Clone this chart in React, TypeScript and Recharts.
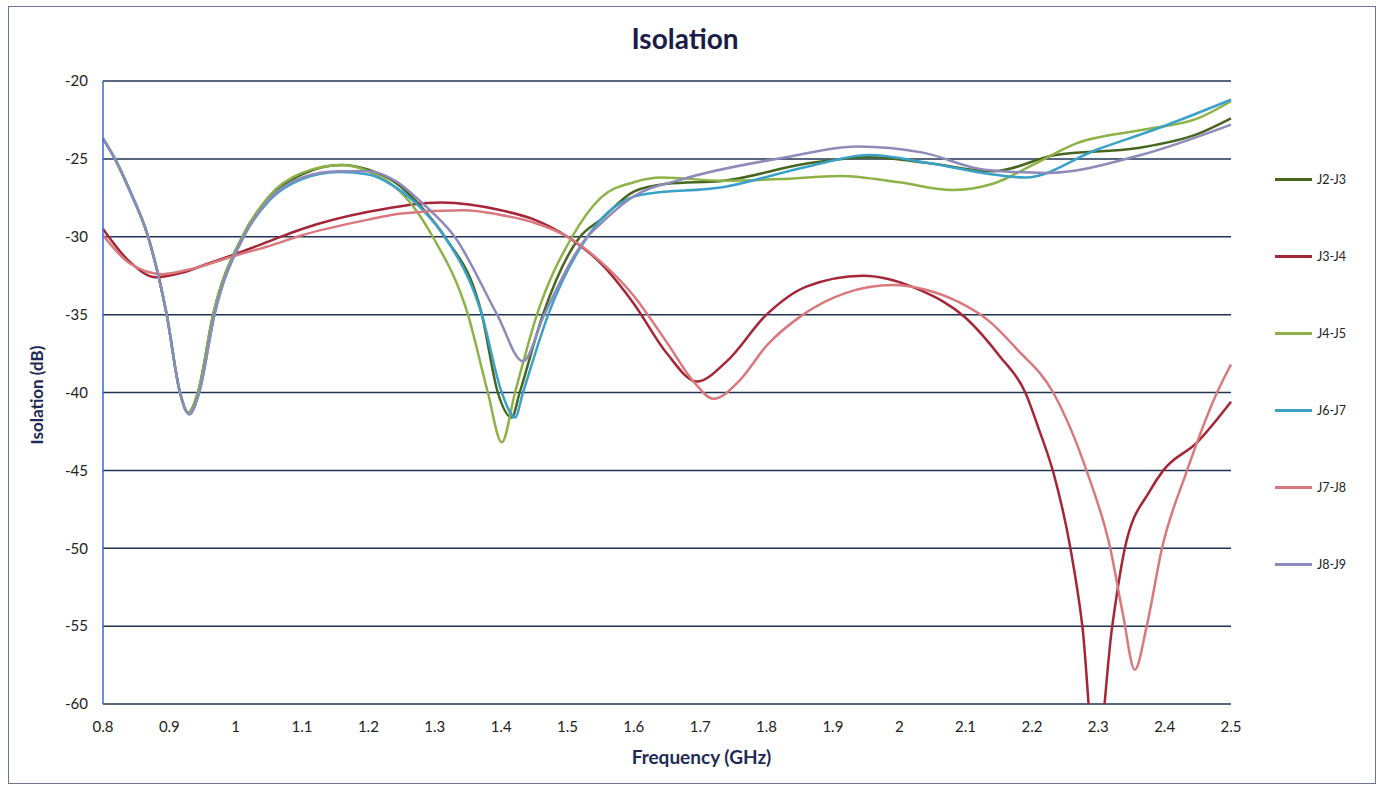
import { LineChart, Line, XAxis, YAxis, CartesianGrid } from "recharts";

const FONT = "Lato, 'Open Sans', sans-serif";

// frequency (GHz) / isolation (dB) pairs
const freqJ23 = [0.8, 0.818, 0.84, 0.868, 0.896, 0.916, 0.928, 0.943, 0.966, 1.01, 1.05, 1.1, 1.16, 1.2, 1.24, 1.28, 1.315, 1.371, 1.395, 1.416, 1.428, 1.463, 1.519, 1.55, 1.6, 1.65, 1.736, 1.861, 1.955, 2.048, 2.141, 2.235, 2.36, 2.45, 2.5];
const isoJ23 = [-23.7, -25, -27, -30, -35, -40, -41.3, -40, -35, -30, -27.5, -26, -25.4, -25.7, -26.5, -28.1, -30, -35, -40, -41.6, -40, -35, -30, -28.9, -27.1, -26.6, -26.4, -25.3, -24.9, -25.3, -25.8, -24.75, -24.3, -23.4, -22.4];

const freqJ34 = [0.8, 0.84, 0.88, 0.92, 0.96, 1.0, 1.05, 1.1, 1.2, 1.31, 1.4, 1.45, 1.5, 1.55, 1.6, 1.65, 1.695, 1.74, 1.8, 1.86, 1.945, 2.03, 2.1, 2.152, 2.19, 2.21, 2.232, 2.258, 2.276, 2.296, 2.321, 2.34, 2.378, 2.398, 2.449, 2.5];
const isoJ34 = [-29.5, -31.6, -32.6, -32.3, -31.7, -31.1, -30.3, -29.5, -28.4, -27.8, -28.3, -28.9, -30, -31.7, -34.3, -37.5, -39.3, -38, -35, -33.2, -32.5, -33.4, -35.2, -37.7, -40, -42.3, -45.1, -50, -55, -64, -55, -50, -46.3, -45, -43.2, -40.6];

const freqJ45 = [0.8, 0.818, 0.84, 0.868, 0.896, 0.916, 0.928, 0.943, 0.966, 1.01, 1.05, 1.1, 1.16, 1.2, 1.24, 1.27, 1.297, 1.35, 1.38, 1.401, 1.421, 1.454, 1.507, 1.55, 1.6, 1.642, 1.736, 1.82, 1.911, 2.0, 2.08, 2.141, 2.205, 2.267, 2.372, 2.45, 2.5];
const isoJ45 = [-23.7, -25, -27, -30, -35, -40, -41.3, -40, -35, -30, -27.4, -25.9, -25.4, -25.8, -26.8, -28.2, -30, -35, -40, -43.2, -40, -35, -30, -27.5, -26.5, -26.2, -26.4, -26.3, -26.1, -26.5, -27, -26.6, -25.3, -24, -23.1, -22.4, -21.3];

const freqJ67 = [0.8, 0.818, 0.84, 0.868, 0.896, 0.916, 0.93, 0.945, 0.968, 1.012, 1.05, 1.1, 1.155, 1.2, 1.24, 1.28, 1.315, 1.371, 1.401, 1.421, 1.433, 1.471, 1.53, 1.611, 1.736, 1.861, 1.955, 2.048, 2.141, 2.19, 2.298, 2.386, 2.5];
const isoJ67 = [-23.7, -25, -27, -30, -35, -40, -41.4, -40, -35, -30, -27.7, -26.3, -25.85, -26, -26.8, -28.2, -30, -35, -40, -41.6, -40, -35, -30, -27.3, -26.8, -25.5, -24.75, -25.3, -26, -26.2, -24.4, -23.1, -21.2];

const freqJ78 = [0.8, 0.84, 0.89, 0.93, 1.0, 1.05, 1.1, 1.2, 1.25, 1.343, 1.4, 1.45, 1.5, 1.55, 1.6, 1.65, 1.69, 1.72, 1.76, 1.8, 1.855, 1.92, 1.99, 2.04, 2.09, 2.135, 2.177, 2.232, 2.283, 2.318, 2.337, 2.355, 2.373, 2.396, 2.433, 2.479, 2.5];
const isoJ78 = [-29.9, -31.7, -32.4, -32.1, -31.2, -30.6, -29.9, -28.9, -28.5, -28.3, -28.6, -29.1, -30, -31.6, -33.8, -36.8, -39.3, -40.4, -39.2, -37, -35, -33.6, -33.1, -33.4, -34.2, -35.4, -37.2, -40, -45.1, -50, -54.2, -57.8, -55, -50, -45.1, -40, -38.2];

const freqJ89 = [0.8, 0.818, 0.84, 0.868, 0.896, 0.916, 0.93, 0.945, 0.968, 1.012, 1.05, 1.1, 1.155, 1.2, 1.24, 1.28, 1.33, 1.394, 1.433, 1.465, 1.53, 1.549, 1.6, 1.674, 1.829, 1.936, 2.036, 2.129, 2.223, 2.36, 2.5];
const isoJ89 = [-23.7, -25, -27, -30, -35, -40, -41.4, -40, -35, -30, -27.6, -26.2, -25.8, -25.8, -26.4, -27.8, -30, -35, -38, -35, -30, -29.2, -27.4, -26.3, -24.9, -24.2, -24.6, -25.7, -25.9, -24.8, -22.8];

const xTicks = [0.8, 0.9, 1, 1.1, 1.2, 1.3, 1.4, 1.5, 1.6, 1.7, 1.8, 1.9, 2, 2.1, 2.2, 2.3, 2.4, 2.5];
const yTicks = [-60, -55, -50, -45, -40, -35, -30, -25, -20];

const toPoints = (f: number[], v: number[]) => f.map((x, i) => ({ f: x, v: v[i] }));

const series = [
  { name: "J2-J3", color: "#46661f", points: toPoints(freqJ23, isoJ23) },
  { name: "J3-J4", color: "#a52636", points: toPoints(freqJ34, isoJ34) },
  { name: "J4-J5", color: "#8db247", points: toPoints(freqJ45, isoJ45) },
  { name: "J6-J7", color: "#3aa2c9", points: toPoints(freqJ67, isoJ67) },
  { name: "J7-J8", color: "#d9787d", points: toPoints(freqJ78, isoJ78) },
  { name: "J8-J9", color: "#8e8ab9", points: toPoints(freqJ89, isoJ89) },
];

const App = () => {
  return (
    <div style={{ position: "absolute", left: 0, top: 0, width: 1383, height: 788, background: "#fff", fontFamily: FONT }}>
      {/* outer chart frame */}
      <div style={{ position: "absolute", left: 8, top: 6, width: 1366, height: 776, border: "1.5px solid #6a7494" }} />

      <div style={{ position: "absolute", left: 0, top: 21, width: 1370, textAlign: "center", fontSize: 28, fontWeight: 700, color: "#1b1c48" }}>
        Isolation
      </div>

      <div
        style={{
          position: "absolute",
          left: 36,
          top: 395,
          transform: "translate(-50%, -50%) rotate(-90deg)",
          whiteSpace: "nowrap",
          fontSize: 17,
          fontWeight: 700,
          color: "#1f2a55",
        }}
      >
        Isolation (dB)
      </div>

      <div style={{ position: "absolute", left: 0, top: 745, width: 1403, textAlign: "center", fontSize: 19, fontWeight: 700, color: "#1f2a55" }}>
        Frequency (GHz)
      </div>

      <LineChart width={1383} height={788} margin={{ top: 81, right: 152, bottom: 44, left: 43 }} style={{ position: "absolute", left: 0, top: 0 }}>
        <CartesianGrid vertical={false} stroke="#1f3452" strokeWidth={1.5} />
        <XAxis
          dataKey="f"
          type="number"
          domain={[0.8, 2.5]}
          ticks={xTicks}
          allowDuplicatedCategory={false}
          axisLine={false}
          tickLine={false}
          tickSize={0}
          tickMargin={17}
          height={40}
          tick={{ fill: "#222", fontSize: 15, fontFamily: FONT }}
        />
        <YAxis
          type="number"
          domain={[-60, -20]}
          ticks={yTicks}
          allowDataOverflow
          width={60}
          axisLine={{ stroke: "#2f6de0", strokeWidth: 1.5 }}
          tickLine={false}
          tickSize={0}
          tickMargin={15}
          tick={{ fill: "#222", fontSize: 15, fontFamily: FONT }}
        />
        {series.map((s) => (
          <Line
            key={s.name}
            data={s.points}
            dataKey="v"
            name={s.name}
            type="monotone"
            stroke={s.color}
            strokeWidth={2.5}
            dot={false}
            isAnimationActive={false}
          />
        ))}
      </LineChart>

      {/* legend */}
      <div style={{ position: "absolute", left: 1275, top: 170 }}>
        {series.map((s) => (
          <div key={s.name} style={{ display: "flex", alignItems: "center", height: 18, marginBottom: 59 }}>
            <div style={{ width: 37, height: 3, background: s.color, marginRight: 5 }} />
            <span style={{ fontSize: 12.5, color: "#222" }}>{s.name}</span>
          </div>
        ))}
      </div>
    </div>
  );
};

export default App;
